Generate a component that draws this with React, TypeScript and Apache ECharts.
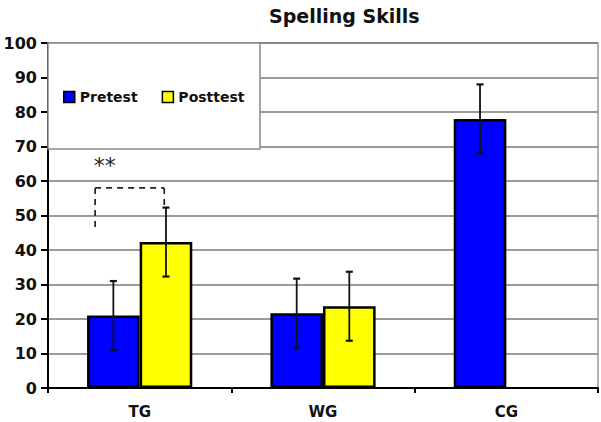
import React, { useEffect, useRef } from "react";
import * as echarts from "echarts";

const categories = ["TG", "WG", "CG"];
const pretest = [21, 21.7, 78];
const posttest: (number | null)[] = [42.3, 23.7, null];
const pretestErr = [10, 10, 10];
const posttestErr: (number | null)[] = [10, 10, null];
const yTicks = [0, 100, 10];
// significance bracket on TG (values in axis units)
const sigTop = 58;
const sigLeftEnd = 46;
const sigRightEnd = 53;
const sigLabelValue = 65;

const GAP = 0.426;
const FONT = "'DejaVu Sans', Arial, sans-serif";

function errData(vals: (number | null)[], errs: (number | null)[]) {
  const out: any[] = [];
  vals.forEach((v, i) => {
    const e = errs[i];
    if (v != null && e != null) out.push([i, v - e, v + e]);
  });
  return out;
}

function makeErrRender(side: number) {
  return (params: any, api: any) => {
    const cat = api.value(0);
    const lo = api.value(1);
    const hi = api.value(2);
    const band = api.size([1, 0])[0];
    const bw = (band * (1 - GAP)) / 2;
    const off = (side * bw) / 2;
    const t = api.coord([cat, hi]);
    const b = api.coord([cat, lo]);
    const x = t[0] + off;
    const cap = 3.5;
    const style = { stroke: "#111", lineWidth: 1.8 };
    return {
      type: "group",
      children: [
        { type: "line", shape: { x1: x, y1: t[1], x2: x, y2: b[1] }, style },
        { type: "line", shape: { x1: x - cap, y1: t[1], x2: x + cap, y2: t[1] }, style: { stroke: "#111", lineWidth: 2.2 } },
        { type: "line", shape: { x1: x - cap, y1: b[1], x2: x + cap, y2: b[1] }, style: { stroke: "#111", lineWidth: 2.2 } },
      ],
    };
  };
}

export default function App() {
  const ref = useRef<HTMLDivElement>(null);
  useEffect(() => {
    if (!ref.current) return;
    const chart = echarts.init(ref.current, null, { renderer: "svg" });
    chart.setOption({
      animation: false,
      backgroundColor: "#fff",
      title: {
        text: "Spelling Skills",
        left: 264,
        top: 1,
        textStyle: { fontFamily: FONT, fontWeight: "bold", fontSize: 19, color: "#111" },
      },
      grid: {
        left: 48,
        right: 3,
        top: 43,
        bottom: 34,
        show: true,
        borderColor: "#9a9a9a",
        borderWidth: 1.5,
        backgroundColor: "#fff",
      },
      graphic: [
        {
          type: "rect",
          z: 5,
          shape: { x: 48, y: 43, width: 212, height: 106 },
          style: { fill: "#fff", stroke: "#8a8a8a", lineWidth: 1.5 },
        },
      ],
      legend: {
        z: 10,
        left: 58,
        top: 85,
        itemWidth: 11,
        itemHeight: 11,
        itemGap: 24,
        icon: "rect",
        data: [
          { name: "Pretest", itemStyle: { color: "#0000ff", borderColor: "#000", borderWidth: 1.5 } },
          { name: "Posttest", itemStyle: { color: "#ffff00", borderColor: "#000", borderWidth: 1.5 } },
        ],
        textStyle: { fontFamily: FONT, fontWeight: "bold", fontSize: 14, color: "#111" },
      },
      xAxis: {
        type: "category",
        data: categories,
        axisLine: { lineStyle: { color: "#000", width: 2 } },
        axisTick: { show: true, length: 5, lineStyle: { color: "#000", width: 2 } },
        axisLabel: { fontFamily: FONT, fontWeight: "bold", fontSize: 15, color: "#111", margin: 16 },
      },
      yAxis: {
        type: "value",
        min: yTicks[0],
        max: yTicks[1],
        interval: yTicks[2],
        axisLine: { show: true, lineStyle: { color: "#000", width: 2 } },
        axisTick: { show: true, length: 7, lineStyle: { color: "#000", width: 2 } },
        axisLabel: { fontFamily: FONT, fontWeight: "bold", fontSize: 16, color: "#111", margin: 11 },
        splitLine: { lineStyle: { color: "#7a7a7a", width: 1.5 } },
      },
      series: [
        {
          name: "Pretest",
          type: "bar",
          data: pretest,
          barGap: "0%",
          barCategoryGap: GAP * 100 + "%",
          itemStyle: { color: "#0000ff", borderColor: "#000", borderWidth: 2.5 },
        },
        {
          name: "Posttest",
          type: "bar",
          data: posttest,
          barGap: "0%",
          barCategoryGap: GAP * 100 + "%",
          itemStyle: { color: "#ffff00", borderColor: "#000", borderWidth: 2.5 },
        },
        {
          type: "custom",
          z: 3,
          data: errData(pretest, pretestErr),
          renderItem: makeErrRender(-1),
          encode: { x: 0, y: [1, 2] },
        },
        {
          type: "custom",
          z: 3,
          data: errData(posttest, posttestErr),
          renderItem: makeErrRender(1),
          encode: { x: 0, y: [1, 2] },
        },
        {
          type: "custom",
          z: 3,
          data: [[0, sigTop, sigLeftEnd, sigRightEnd, sigLabelValue]],
          encode: { x: 0, y: [1, 2, 3, 4] },
          renderItem: (params: any, api: any) => {
            const band = api.size([1, 0])[0];
            const c = api.coord([api.value(0), api.value(1)]);
            const lb = api.coord([api.value(0), api.value(2)]);
            const rb = api.coord([api.value(0), api.value(3)]);
            const lab = api.coord([api.value(0), api.value(4)]);
            const xl = c[0] - band * 0.243;
            const xr = c[0] + band * 0.134;
            const style = { stroke: "#222", lineWidth: 1.7, lineDash: [6, 5] };
            return {
              type: "group",
              children: [
                { type: "line", shape: { x1: xl, y1: c[1], x2: xr, y2: c[1] }, style },
                { type: "line", shape: { x1: xl, y1: c[1], x2: xl, y2: lb[1] }, style },
                { type: "line", shape: { x1: xr, y1: c[1], x2: xr, y2: rb[1] }, style },
                {
                  type: "text",
                  x: c[0] - band * 0.19,
                  y: lab[1] + 2,
                  style: {
                    text: "**",
                    fontFamily: FONT,
                    fontSize: 22,
                    fill: "#222",
                    align: "center",
                    verticalAlign: "middle",
                  },
                },
              ],
            };
          },
        },
      ],
    });
    return () => chart.dispose();
  }, []);
  return <div ref={ref} style={{ width: 601, height: 422, position: "absolute", left: 0, top: 0 }} />;
}
